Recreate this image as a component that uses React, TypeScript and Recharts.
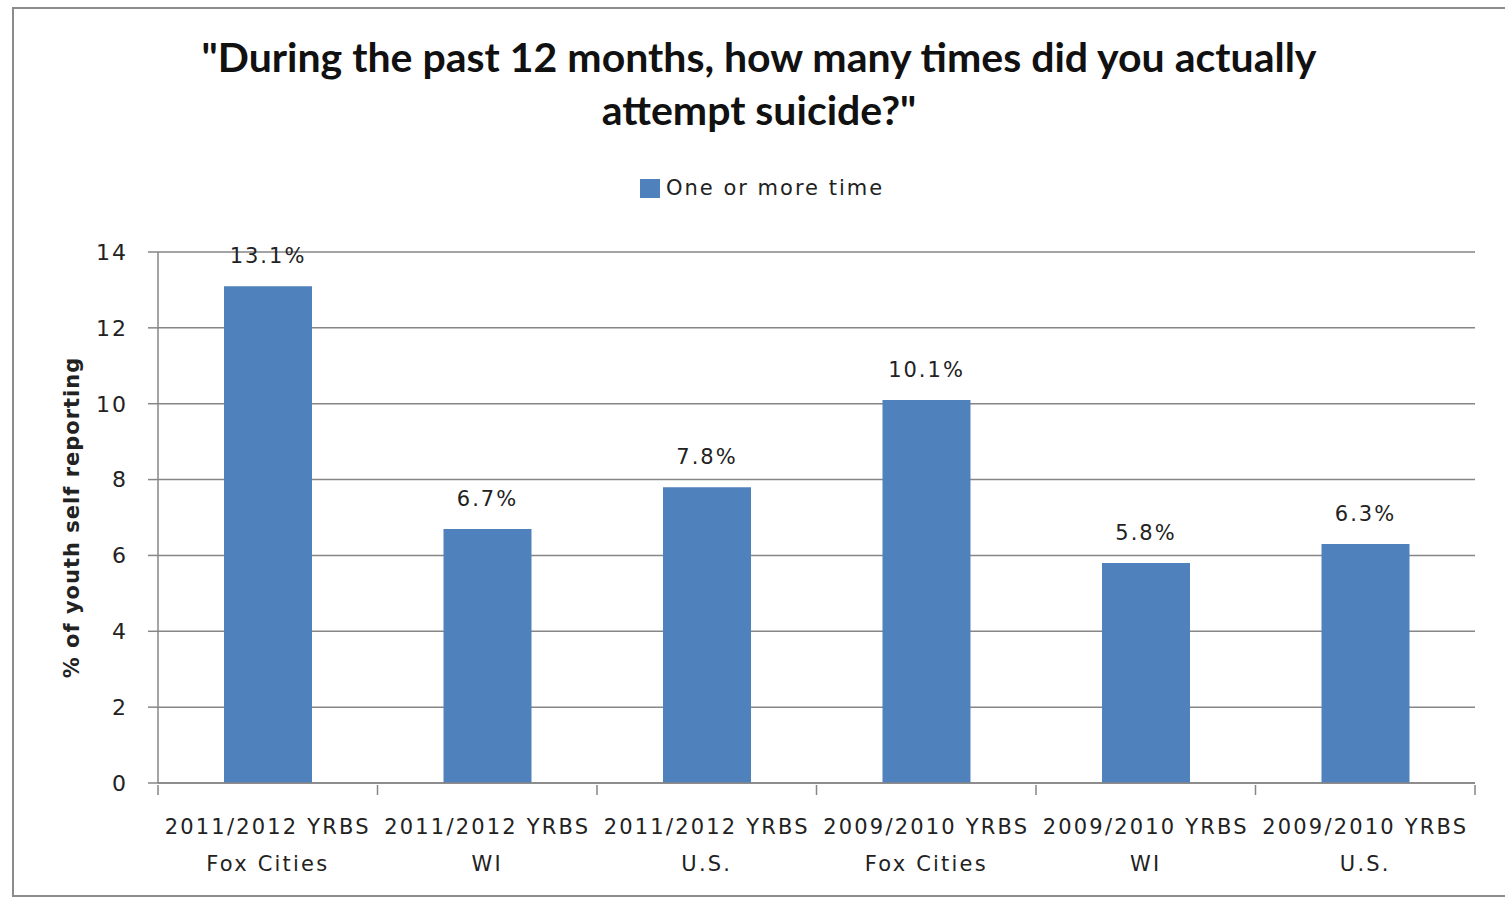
import React from 'react';
import { BarChart, Bar, XAxis, YAxis, CartesianGrid, LabelList } from 'recharts';

const surveys = ['2011/2012 YRBS', '2011/2012 YRBS', '2011/2012 YRBS', '2009/2010 YRBS', '2009/2010 YRBS', '2009/2010 YRBS'];
const places = ['Fox Cities', 'WI', 'U.S.', 'Fox Cities', 'WI', 'U.S.'];
const oneOrMore = [13.1, 6.7, 7.8, 10.1, 5.8, 6.3];
const yTicks = [0, 2, 4, 6, 8, 10, 12, 14];

const data = surveys.map((s, i) => ({ key: i, survey: s, place: places[i], value: oneOrMore[i] }));

const BAR = '#4F81BD';
const AXIS = '#868686';
const TICK_FONT = '"DejaVu Sans", Verdana, sans-serif';

const W = 1505;
const H = 898;
const M = { top: 252, right: 30, bottom: 15, left: 98 };
const Y_W = 60;
const X_H = 100;
const BAND = (W - M.left - Y_W - M.right) / data.length;

// Excel style: tick marks sit between categories, labels centered
const CategoryTick = (props: any) => {
  const { x, y, payload } = props;
  const row = data[payload.value];
  const last = payload.value === data.length - 1;
  return (
    <g transform={`translate(${x},${y})`}>
      <line x1={-BAND / 2} x2={-BAND / 2} y1={0} y2={10} stroke={AXIS} strokeWidth={1.5} />
      {last && <line x1={BAND / 2} x2={BAND / 2} y1={0} y2={10} stroke={AXIS} strokeWidth={1.5} />}
      <text textAnchor="middle" fontFamily={TICK_FONT} fontSize={21} letterSpacing={2.2} fill="#222">
        <tspan x={0} dy={49}>{row.survey}</tspan>
        <tspan x={0} dy={37}>{row.place}</tspan>
      </text>
    </g>
  );
};

const YTitle = (props: any) => {
  const { viewBox } = props;
  const cx = viewBox.x - 26;
  const cy = viewBox.y + viewBox.height / 2;
  return (
    <text
      x={cx}
      y={cy}
      transform={`rotate(-90, ${cx}, ${cy})`}
      textAnchor="middle"
      dominantBaseline="central"
      fontFamily={TICK_FONT}
      fontSize={21}
      fontWeight={700}
      letterSpacing={1}
      fill="#222"
    >
      % of youth self reporting
    </text>
  );
};

export default function App() {
  return (
    <div style={{ position: 'absolute', left: 0, top: 0, width: W, height: H, background: '#fff' }}>
      <div style={{ position: 'absolute', left: 12, top: 7, width: 1500, height: 886, border: '2px solid #8c8c8c' }} />
      <div
        style={{
          position: 'absolute', left: 0, top: 30, width: 1518, textAlign: 'center',
          fontFamily: 'Lato, "Open Sans", sans-serif', fontWeight: 700, fontSize: 41, lineHeight: '53px', color: '#111',
        }}
      >
        "During the past 12 months, how many times did you actually
        <br />
        attempt suicide?"
      </div>
      <div
        style={{
          position: 'absolute', left: 640, top: 176, display: 'flex', alignItems: 'center',
          fontFamily: TICK_FONT, fontSize: 21, letterSpacing: 2, color: '#222', whiteSpace: 'nowrap',
        }}
      >
        <span style={{ width: 20, height: 19, background: BAR, display: 'inline-block', marginRight: 6 }} />
        One or more time
      </div>
      <div style={{ position: 'absolute', left: 0, top: 0 }}>
        <BarChart width={W} height={H} data={data} margin={M}>
          <CartesianGrid vertical={false} stroke={AXIS} strokeWidth={1.5} />
          <XAxis
            dataKey="key"
            interval={0}
            tickLine={false}
            axisLine={{ stroke: AXIS, strokeWidth: 1.5 }}
            tick={<CategoryTick />}
            tickSize={0}
            height={X_H}
          />
          <YAxis
            width={Y_W}
            domain={[0, 14]}
            ticks={yTicks}
            tickLine={{ stroke: AXIS, strokeWidth: 1.5 }}
            axisLine={{ stroke: AXIS, strokeWidth: 1.5 }}
            tickSize={10}
            tickMargin={20}
            tick={{ fontFamily: TICK_FONT, fontSize: 22, letterSpacing: 2, fill: '#222' }}
            label={<YTitle />}
          />
          <Bar dataKey="value" fill={BAR} barSize={88} isAnimationActive={false}>
            <LabelList
              dataKey="value"
              position="top"
              offset={23}
              formatter={(v: any) => `${v}%`}
              style={{ fontFamily: TICK_FONT, fontSize: 21, letterSpacing: 2, fill: '#222' }}
            />
          </Bar>
        </BarChart>
      </div>
    </div>
  );
}
